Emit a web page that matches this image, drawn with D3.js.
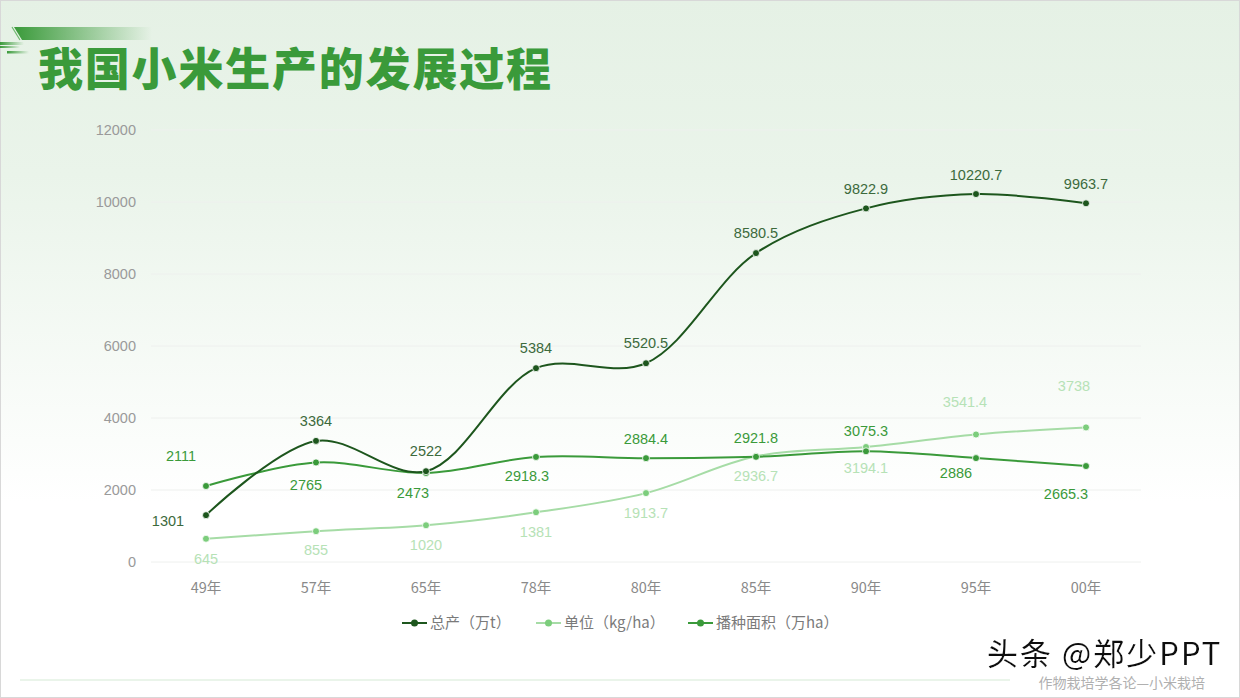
<!DOCTYPE html>
<html><head><meta charset="utf-8">
<script src="https://cdn.jsdelivr.net/npm/d3@7/dist/d3.min.js"></script>
<style>html,body{margin:0;padding:0;background:#fff;}svg{display:block;}</style>
</head><body>
<svg id="c" width="1240" height="698"></svg>
<script>
const categories = ["49年","57年","65年","78年","80年","85年","90年","95年","00年"];
const totalOutput = [1301,3364,2522,5384,5520.5,8580.5,9822.9,10220.7,9963.7];
const unitYield = [645,855,1020,1381,1913.7,2936.7,3194.1,3541.4,3738];
const sownArea = [2111,2765,2473,2918.3,2884.4,2921.8,3075.3,2886,2665.3];
const yTicks = [0,2000,4000,6000,8000,10000,12000];
const seriesNames = ["总产（万t）","单位（kg/ha）","播种面积（万ha）"];

const svg = d3.select("#c");
const W = 1240, H = 698;
const defs = svg.append("defs");
const bg = defs.append("linearGradient").attr("id","bg").attr("x1",0).attr("y1",0).attr("x2",0).attr("y2",1);
bg.append("stop").attr("offset","0%").attr("stop-color","#e5f1e5");
bg.append("stop").attr("offset","25%").attr("stop-color","#eaf4ea");
bg.append("stop").attr("offset","72%").attr("stop-color","#ffffff");
bg.append("stop").attr("offset","100%").attr("stop-color","#ffffff");
svg.append("rect").attr("width",W).attr("height",H).attr("fill","url(#bg)");
svg.append("rect").attr("x",0.5).attr("y",0.5).attr("width",W-1).attr("height",H-1).attr("fill","none").attr("stroke","#d8d8d8");

const sh = defs.append("filter").attr("id","wsh").attr("x","-10%").attr("y","-30%").attr("width","120%").attr("height","160%");
sh.append("feDropShadow").attr("dx",1.5).attr("dy",1.5).attr("stdDeviation",0.3).attr("flood-color","#ffffff").attr("flood-opacity",1);

// decoration
const dg = defs.append("linearGradient").attr("id","dg").attr("x1",0).attr("y1",0).attr("x2",1).attr("y2",0);
dg.append("stop").attr("offset","0%").attr("stop-color","#3a9a3a");
dg.append("stop").attr("offset","100%").attr("stop-color","#3a9a3a").attr("stop-opacity",0);
svg.append("path").attr("d","M14,27 L152,27 L152,40 L22,40 Z").attr("fill","url(#dg)");
svg.append("path").attr("d","M12,27 L20,40").attr("stroke","#6fb86f").attr("stroke-width",1.2);
svg.append("rect").attr("x",0).attr("y",42).attr("width",24).attr("height",3).attr("fill","url(#dg)");
svg.append("rect").attr("x",0).attr("y",46).attr("width",20).attr("height",2).attr("fill","url(#dg)");
svg.append("rect").attr("x",7).attr("y",51).attr("width",22).attr("height",2.5).attr("fill","url(#dg)");

svg.append("text").attr("x",38).attr("y",86)
  .attr("font-family","'Noto Sans CJK SC'").attr("font-weight",900).attr("font-size",45)
  .attr("fill","#3a9a3a").attr("letter-spacing",1.8).text("我国小米生产的发展过程");

const x = d3.scaleBand().domain(categories).range([151,1141]);
const y = d3.scaleLinear().domain([0,12000]).range([562,130]);
const cx = c => x(c) + x.bandwidth()/2;

const font = "'Liberation Sans', Arial, sans-serif";
// grid
svg.append("g").selectAll("line").data(yTicks).join("line")
  .attr("x1",151).attr("x2",1141).attr("y1",d=>y(d)).attr("y2",d=>y(d))
  .attr("stroke","#eef0ee").attr("stroke-width",1);
svg.append("g").selectAll("text").data(yTicks).join("text")
  .attr("x",136).attr("y",d=>y(d)+5).attr("text-anchor","end")
  .attr("font-family",font).attr("font-size",14.5).attr("fill","#9a9a9a").text(d=>d);
svg.append("g").selectAll("text").data(categories).join("text")
  .attr("x",d=>cx(d)).attr("y",593).attr("text-anchor","middle")
  .attr("font-family","'Noto Sans CJK SC'").attr("font-size",14.5).attr("fill","#8a8a8a").text(d=>d);

const series = [
  {vals: unitYield, line:"#a6dca6", dot:"#7ccd7c", lab:"#b6e2b6",
   pos:[[0,20],[0,19],[0,20],[0,20],[0,20],[0,20],[0,21],[-11,-33],[-12,-41]]},
  {vals: sownArea, line:"#3a9a3a", dot:"#3a9a3a", lab:"#3a9a3a",
   pos:[[-25,-30],[-10,23],[-13,20],[-9,19],[0,-19],[0,-19],[0,-20],[-20,15],[-20,28]]},
  {vals: totalOutput, line:"#1d561d", dot:"#1d561d", lab:"#3c6a3c",
   pos:[[-38,6],[0,-20],[0,-20],[0,-20],[0,-20],[0,-20],[0,-19],[0,-19],[0,-19]]}
];
const line = d3.line().x((d,i)=>cx(categories[i])).y(d=>y(d)).curve(d3.curveCatmullRom.alpha(0.5));
series.forEach(s=>{
  svg.append("path").attr("d",line(s.vals)).attr("fill","none").attr("stroke",s.line).attr("stroke-width",2);
  svg.append("g").selectAll("circle").data(s.vals).join("circle")
    .attr("cx",(d,i)=>cx(categories[i])).attr("cy",d=>y(d)).attr("r",3.5)
    .attr("fill",s.dot).attr("stroke","#fff").attr("stroke-width",0.8);
});
series.forEach(s=>{
  svg.append("g").selectAll("text").data(s.vals).join("text")
    .attr("x",(d,i)=>cx(categories[i])+s.pos[i][0]).attr("y",(d,i)=>y(d)+s.pos[i][1]+5)
    .attr("text-anchor","middle").attr("font-family",font).attr("font-size",14.5)
    .attr("fill",s.lab).text(d=>d);
});

// legend
const leg = [
  {x:402, c:"#1d561d", t:seriesNames[0]},
  {x:536, c:"#a6dca6", dc:"#7ccd7c", t:seriesNames[1]},
  {x:688, c:"#3a9a3a", t:seriesNames[2]}
];
leg.forEach(l=>{
  const g = svg.append("g");
  g.append("line").attr("x1",l.x).attr("x2",l.x+25).attr("y1",623).attr("y2",623).attr("stroke",l.c).attr("stroke-width",2);
  g.append("circle").attr("cx",l.x+12.5).attr("cy",623).attr("r",3.5).attr("fill",l.dc||l.c);
  g.append("text").attr("x",l.x+28).attr("y",628).attr("font-family","'Noto Sans CJK SC'").attr("font-size",15).attr("fill","#7a7a7a").text(l.t);
});

// footer
svg.append("line").attr("x1",20).attr("x2",1010).attr("y1",680).attr("y2",680).attr("stroke","#d5ead5").attr("stroke-width",1);
svg.append("text").attr("x",1205).attr("y",688).attr("text-anchor","end").attr("font-family","'Noto Sans CJK SC'")
  .attr("font-size",14).attr("fill","#b0b0b0").text("作物栽培学各论—小米栽培");
svg.append("text").attr("x",987).attr("y",665).attr("font-family","'Noto Sans CJK SC'").attr("letter-spacing",2)
  .attr("font-size",31).attr("fill","#111").attr("filter","url(#wsh)").text("头条 @郑少PPT");
</script>
</body></html>
